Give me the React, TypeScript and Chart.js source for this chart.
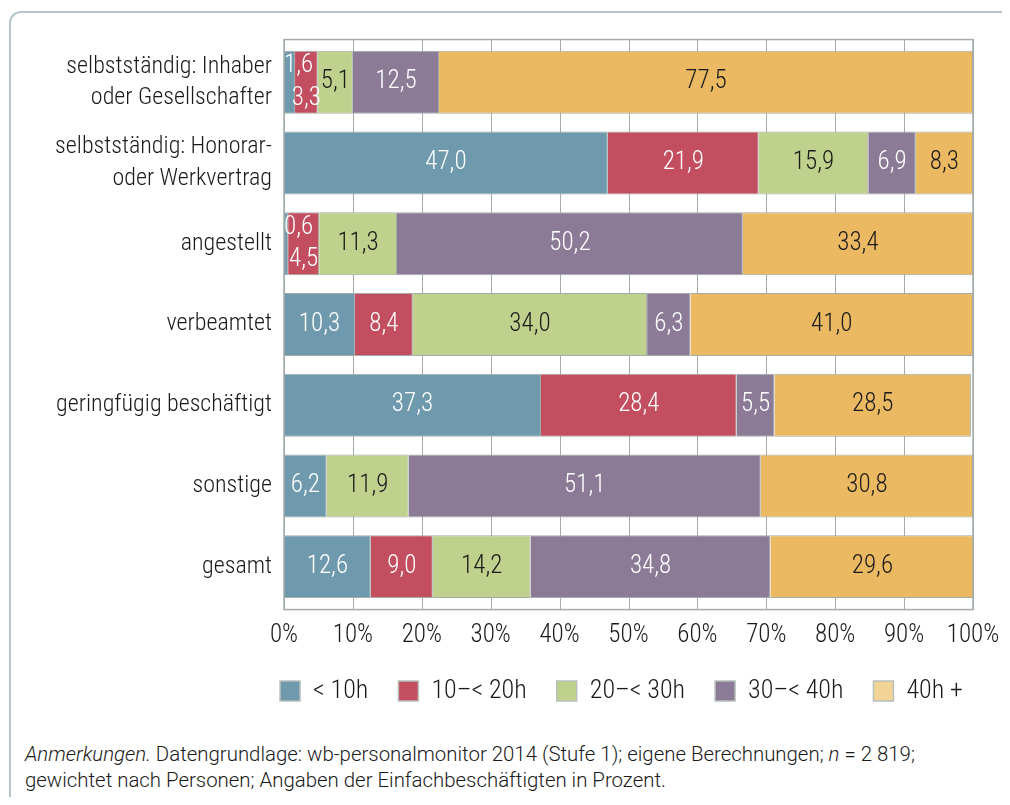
import React, { useEffect, useRef } from "react";
import { Chart, registerables } from "chart.js";

Chart.register(...registerables);

const categories: (string | string[])[] = [
  ["selbstständig: Inhaber", "oder Gesellschafter"],
  ["selbstständig: Honorar-", "oder Werkvertrag"],
  "angestellt",
  "verbeamtet",
  "geringfügig beschäftigt",
  "sonstige",
  "gesamt",
];

const seriesNames = ["< 10h", "10–< 20h", "20–< 30h", "30–< 40h", "40h +"];

const under10 = [1.6, 47.0, 0.6, 10.3, 37.3, 6.2, 12.6];
const from10to20 = [3.3, 21.9, 4.5, 8.4, 28.4, null, 9.0];
const from20to30 = [5.1, 15.9, 11.3, 34.0, null, 11.9, 14.2];
const from30to40 = [12.5, 6.9, 50.2, 6.3, 5.5, 51.1, 34.8];
const over40 = [77.5, 8.3, 33.4, 41.0, 28.5, 30.8, 29.6];

const xTicks = [0, 10, 20, 30, 40, 50, 60, 70, 80, 90, 100];

const barColors = ["#6f9aae", "#c24e60", "#bfd18c", "#8b7b96", "#ebb962"];
const legendColors = ["#6f9aae", "#c24e60", "#bfd18c", "#8b7b96", "#f2d398"];
const labelColors = ["#ffffff", "#ffffff", "#1a1a1a", "#ffffff", "#1a1a1a"];

const FONT = '"Roboto Condensed", "Liberation Sans", sans-serif';
const GRID = "#a3aca9";

const frame = {
  id: "frame",
  beforeDatasetsDraw(chart: any) {
    const { ctx, chartArea: a, scales } = chart;
    ctx.save();
    ctx.strokeStyle = GRID;
    ctx.lineWidth = 1;
    xTicks.forEach((v) => {
      const x = Math.round(scales.x.getPixelForValue(v)) + 0.5;
      ctx.beginPath();
      ctx.moveTo(x, a.top - 2.3);
      ctx.lineTo(x, a.bottom + 2.6);
      ctx.stroke();
    });
    ctx.restore();
  },
  afterDatasetsDraw(chart: any) {
    const { ctx, chartArea: a } = chart;
    ctx.save();
    ctx.strokeStyle = GRID;
    ctx.lineWidth = 1.5;
    ctx.strokeRect(a.left, a.top - 2.3, a.right - a.left, a.bottom - a.top + 4.9);
    ctx.restore();
  },
  afterLayout(chart: any) {
    const lg = chart.legend;
    if (!lg) return;
    const c = 621.5;
    lg.left = c - 480;
    lg.right = c + 480;
  },
};

const valueLabels = {
  id: "valueLabels",
  afterDatasetsDraw(chart: any) {
    const { ctx, chartArea } = chart;
    ctx.save();
    ctx.font = `300 25px ${FONT}`;
    ctx.textBaseline = "middle";
    ctx.textAlign = "left";
    const n = chart.data.labels.length;
    for (let j = 0; j < n; j++) {
      let smallCount = 0;
      chart.data.datasets.forEach((ds: any, i: number) => {
        const v = ds.data[j];
        if (v === null || v === undefined) return;
        const el: any = chart.getDatasetMeta(i).data[j];
        const text = v.toFixed(1).replace(".", ",");
        const tw = ctx.measureText(text).width;
        const left = Math.min(el.x, el.base);
        const right = Math.max(el.x, el.base);
        const w = right - left;
        let cx = (left + right) / 2;
        let cy = el.y;
        if (w < tw + 4) {
          cy = el.y + (smallCount % 2 === 0 ? -1 : 1) * el.height * 0.26;
          smallCount++;
        }
        let tx = cx - tw / 2;
        if (tx < chartArea.left) tx = chartArea.left;
        ctx.fillStyle = labelColors[i];
        ctx.fillText(text, tx, cy);
      });
    }
    ctx.restore();
  },
};

export default function App() {
  const ref = useRef<HTMLCanvasElement | null>(null);
  useEffect(() => {
    if (!ref.current) return;
    const data = [under10, from10to20, from20to30, from30to40, over40];
    const chart = new Chart(ref.current, {
      type: "bar",
      data: {
        labels: categories,
        datasets: data.map((d, i) => ({
          label: seriesNames[i],
          data: d,
          backgroundColor: barColors[i],
          borderColor: GRID,
          borderWidth: 1,
          categoryPercentage: 1,
          barPercentage: 0.78,
        })),
      },
      options: {
        indexAxis: "y",
        responsive: false,
        animation: false,
        layout: { padding: { left: 0, top: 41.85, right: 37, bottom: 13 } },
        scales: {
          x: {
            stacked: true,
            min: 0,
            max: 100,
            afterBuildTicks(scale: any) {
              scale.ticks = xTicks.map((v) => ({ value: v }));
            },
            afterFit(scale: any) {
              scale.height = 41;
            },
            ticks: {
              callback: (v: any) => `${v}%`,
              color: "#1a1a1a",
              font: { family: FONT, size: 25, weight: "300" },
              padding: 6,
              maxRotation: 0,
            },
            grid: { display: false },
            border: { display: false },
          },
          y: {
            stacked: true,
            afterFit(scale: any) {
              scale.width = 284;
            },
            ticks: {
              color: "#1a1a1a",
              font: { family: FONT, size: 24, weight: "300", lineHeight: 1.3 },
              padding: 4,
            },
            grid: { display: false },
            border: { display: false },
          },
        },
        plugins: {
          tooltip: { enabled: false },
          legend: {
            position: "bottom",
            labels: {
              boxWidth: 20,
              boxHeight: 20,
              padding: 30,
              color: "#1a1a1a",
              font: { family: FONT, size: 26, weight: "300" },
              generateLabels: (chart: any) =>
                chart.data.datasets.map((ds: any, i: number) => ({
                  text: ds.label,
                  fillStyle: legendColors[i],
                  strokeStyle: "#b8c0bd",
                  lineWidth: 1.5,
                  fontColor: "#1a1a1a",
                  datasetIndex: i,
                  hidden: false,
                })),
            },
          },
        },
      } as any,
      plugins: [frame, valueLabels],
    });
    return () => chart.destroy();
  }, []);

  return (
    <div style={{ position: "relative", width: 1010, height: 805, margin: -8, overflow: "hidden", background: "#fff" }}>
      <div
        style={{
          position: "absolute",
          left: 9,
          top: 11,
          width: 1010,
          height: 810,
          borderLeft: "2px solid #b7c5cd",
          borderTop: "2px solid #b7c5cd",
          borderTopLeftRadius: 12,
          boxSizing: "border-box",
        }}
      />
      <canvas ref={ref} width={1010} height={727} style={{ position: "absolute", left: 0, top: 0, width: 1010, height: 727 }} />
      <div
        style={{
          position: "absolute",
          left: 25,
          top: 741,
          fontFamily: "Roboto, sans-serif",
          fontWeight: 300,
          fontSize: 20.4,
          lineHeight: "26px",
          color: "#1a1a1a",
          whiteSpace: "nowrap",
        }}
      >
        <div>
          <i>Anmerkungen.</i> Datengrundlage: wb-personalmonitor 2014 (Stufe 1); eigene Berechnungen; <i>n</i> = 2 819;
        </div>
        <div>gewichtet nach Personen; Angaben der Einfachbeschäftigten in Prozent.</div>
      </div>
    </div>
  );
}
